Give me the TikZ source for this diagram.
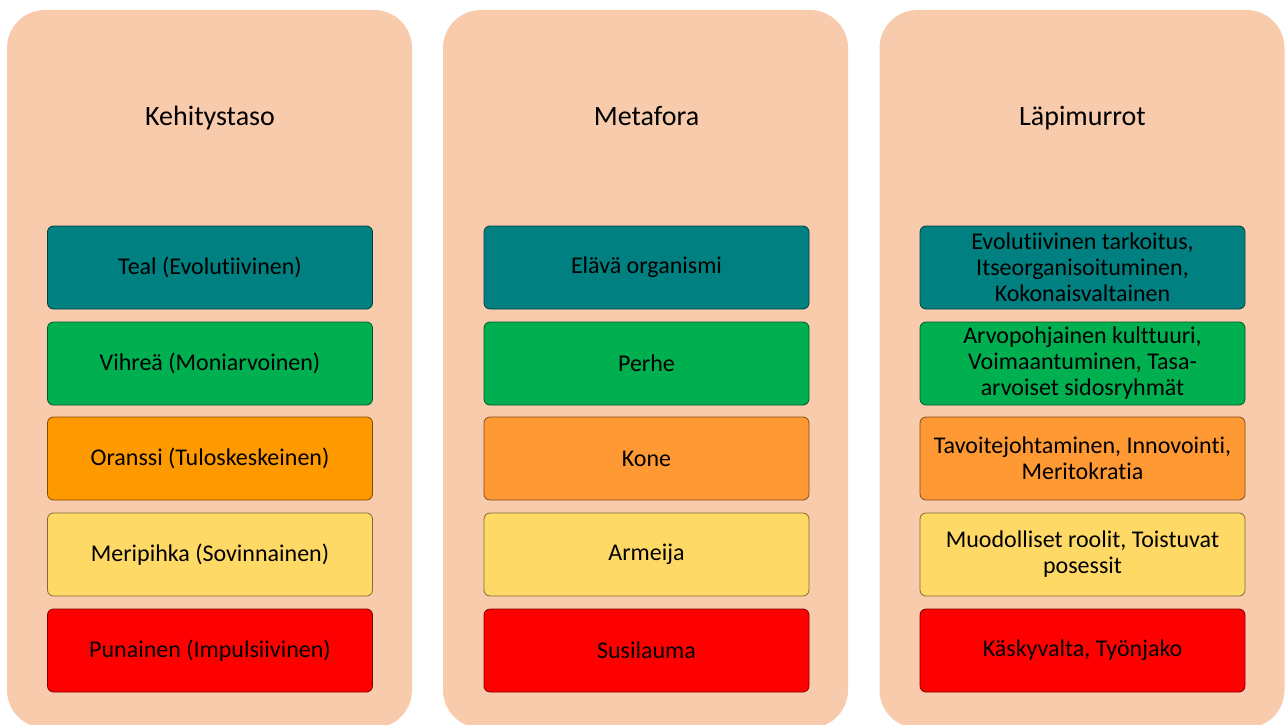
\documentclass[tikz,border=0pt]{standalone}
\usepackage{fontspec}
\setmainfont{Carlito}[Ligatures=NoCommon]
\definecolor{peach}{HTML}{F8CBAD}
\definecolor{tealc}{HTML}{008080}
\definecolor{greenc}{HTML}{00B050}
\definecolor{orangeA}{HTML}{FF9900}
\definecolor{orangeB}{HTML}{FF9933}
\definecolor{yellowc}{HTML}{FFD966}
\definecolor{redc}{HTML}{FF0000}
\begin{document}
\begin{tikzpicture}[x=1pt,y=-1pt,
  panel/.style={fill=peach, draw=none, rounded corners=38pt, minimum width=405pt, minimum height=718pt, inner sep=0pt},
  box/.style={draw=#1!50!black, fill=#1, rounded corners=6pt, line width=0.8pt, minimum width=325pt, minimum height=83pt, align=center, font=\fontsize{24}{26}\selectfont, inner sep=0pt, text=black},
  title/.style={font=\fontsize{28}{32}\selectfont, text=black, anchor=base, inner sep=0pt}]
\useasboundingbox (0,0) rectangle (1285,725);
\clip (0,0) rectangle (1285,725);
\node[panel] (p1) at (209.5,369) {};
\node[panel] (p2) at (645.5,369) {};
\node[panel] (p3) at (1082,369) {};
\node[title] (t1) at (210,125.5) {Kehitystaso};
\node[title] (t2) at (646.5,125.5) {Metafora};
\node[title] (t3) at (1082.5,125.5) {Läpimurrot};
% column 1
\node[box=tealc] (a1) at (210,267.5) {Teal (Evolutiivinen)};
\node[box=greenc] (a2) at (210,363.5) {Vihreä (Moniarvoinen)};
\node[box=orangeA] (a3) at (210,458.5) {Oranssi (Tuloskeskeinen)};
\node[box=yellowc] (a4) at (210,554.5) {Meripihka (Sovinnainen)};
\node[box=redc] (a5) at (210,650.5) {Punainen (Impulsiivinen)};
% column 2
\node[box=tealc] (b1) at (646.5,267.5) {Elävä organismi};
\node[box=greenc] (b2) at (646.5,363.5) {Perhe};
\node[box=orangeB] (b3) at (646.5,458.5) {Kone};
\node[box=yellowc] (b4) at (646.5,554.5) {Armeija};
\node[box=redc] (b5) at (646.5,650.5) {Susilauma};
% column 3
\node[box=tealc] (c1) at (1082.5,267.5) {Evolutiivinen tarkoitus,\\Itseorganisoituminen,\\Kokonaisvaltainen};
\node[box=greenc] (c2) at (1082.5,363.5) {Arvopohjainen kulttuuri,\\Voimaantuminen, Tasa-\\arvoiset sidosryhmät};
\node[box=orangeB] (c3) at (1082.5,458.5) {Tavoitejohtaminen, Innovointi,\\Meritokratia};
\node[box=yellowc] (c4) at (1082.5,554.5) {Muodolliset roolit, Toistuvat\\posessit};
\node[box=redc] (c5) at (1082.5,650.5) {Käskyvalta, Työnjako};
\end{tikzpicture}
\end{document}
